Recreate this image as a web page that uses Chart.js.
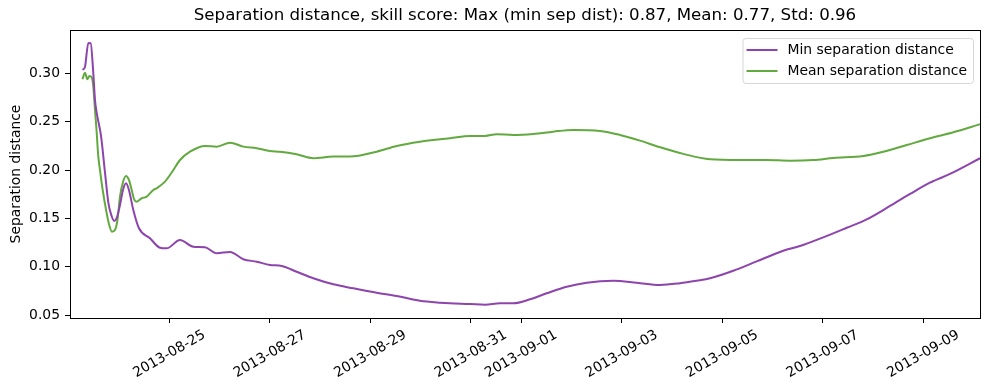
<!DOCTYPE html>
<html>
<head>
<meta charset="utf-8">
<script src="https://cdn.jsdelivr.net/npm/chart.js@4/dist/chart.umd.min.js"></script>
<style>
html,body{margin:0;padding:0;background:#fff;}
#wrap{width:989px;height:390px;}
</style>
</head>
<body>
<div id="wrap"><canvas id="c" width="989" height="390"></canvas></div>
<script>
// ---- data (x = days since 2013-08-23 00:00 UTC) ----
const startDate = '2013-08-23';
const minDays = [0.273,0.323,0.389,0.436,0.488,0.522,0.556,0.641,0.721,0.787,0.854,0.906,0.96,1.019,1.079,1.139,1.197,1.284,1.397,1.616,1.815,1.948,2.213,2.477,2.710,2.943,3.208,3.472,3.739,4.003,4.236,4.534,4.865,5.263,5.660,6.126,6.524,6.987,7.385,7.584,7.982,8.28,8.579,8.843,9.176,9.508,9.906,10.304,10.833,11.298,11.762,12.16,12.492,12.757,13.22,13.686,14.215,14.547,15.01,15.476,15.874,16.338,16.735,17.133,17.531,18.128];
const minValues = [0.3034,0.3068,0.3313,0.3310,0.3003,0.2724,0.259,0.2355,0.1974,0.1664,0.1523,0.1474,0.1515,0.164,0.1795,0.1864,0.1795,0.1588,0.1399,0.1295,0.1198,0.1192,0.1278,0.1209,0.1203,0.1141,0.1154,0.1079,0.1054,0.102,0.1009,0.095,0.0882,0.082,0.0779,0.0733,0.0699,0.065,0.063,0.0624,0.0617,0.061,0.0624,0.0624,0.0665,0.0727,0.0795,0.0837,0.0857,0.0837,0.0813,0.0831,0.0857,0.0882,0.096,0.1057,0.1167,0.1215,0.1305,0.1404,0.1491,0.1629,0.1753,0.187,0.196,0.2122];
const meanDays = [0.273,0.323,0.369,0.409,0.456,0.488,0.522,0.552,0.588,0.621,0.675,0.755,0.80,0.860,0.919,0.969,1.019,1.079,1.139,1.197,1.252,1.298,1.351,1.451,1.550,1.682,1.749,1.914,2.054,2.213,2.412,2.710,2.943,3.208,3.472,3.739,4.003,4.202,4.534,4.865,5.263,5.595,6.126,6.524,6.987,7.385,7.584,7.982,8.28,8.513,8.843,9.241,9.639,10.037,10.568,10.966,11.364,11.762,12.226,12.757,13.353,13.884,14.348,14.812,15.21,15.806,16.204,16.67,17.133,17.597,18.128];
const meanValues = [0.2938,0.3006,0.2938,0.2972,0.2959,0.2862,0.2621,0.2414,0.2138,0.2001,0.1794,0.1553,0.1443,0.1364,0.1381,0.1485,0.1725,0.1877,0.1939,0.1898,0.1794,0.1701,0.1674,0.1709,0.1725,0.1794,0.1812,0.188,0.198,0.2104,0.219,0.2249,0.2242,0.2283,0.2242,0.2225,0.2197,0.219,0.2163,0.2122,0.2139,0.2139,0.219,0.2249,0.2293,0.2318,0.2329,0.2353,0.2353,0.237,0.2363,0.2373,0.2397,0.2414,0.2404,0.2363,0.2304,0.2236,0.2167,0.2112,0.2104,0.2104,0.2097,0.2104,0.2125,0.2146,0.219,0.2259,0.2328,0.239,0.2473];
const xTickLabels = ['2013-08-25','2013-08-27','2013-08-29','2013-08-31','2013-09-01','2013-09-03','2013-09-05','2013-09-07','2013-09-09'];
const yTickValues = [0.05,0.10,0.15,0.20,0.25,0.30];
const seriesNames = ['Min separation distance','Mean separation distance'];
const titleText = 'Separation distance, skill score: Max (min sep dist): 0.87, Mean: 0.77, Std: 0.96';
const yAxisTitle = 'Separation distance';

// ---- helpers ----
const DAY = 86400000;
const t0 = Date.parse(startDate + 'T00:00:00Z');
const dayOf = s => (Date.parse(s + 'T00:00:00Z') - t0) / DAY;
const fmtDay = d => new Date(t0 + Math.round(d * DAY)).toISOString().slice(0, 10);
const xTickValues = xTickLabels.map(dayOf);
const COLORS = ['#8e44ad', '#62aa3f'];
const FONT = '"DejaVu Sans", sans-serif';
const FS = 13.9;

Chart.defaults.font.family = FONT;
Chart.defaults.color = '#000';

const frameAndLabels = {
  id: 'frameAndLabels',
  afterDraw(chart) {
    const {ctx, chartArea: a} = chart;
    const xs = chart.scales.x;
    ctx.save();
    // spines
    ctx.strokeStyle = '#000';
    ctx.lineWidth = 1;
    ctx.strokeRect(Math.round(a.left) + 0.5, Math.round(a.top) + 0.5,
                   Math.round(a.right - a.left), Math.round(a.bottom - a.top));
    // x tick labels, rotated 30deg, centred on tick
    ctx.font = FS + 'px ' + FONT;
    ctx.fillStyle = '#000';
    ctx.textAlign = 'center';
    ctx.textBaseline = 'middle';
    const rad = 30 * Math.PI / 180;
    xs.ticks.forEach(t => {
      const px = xs.getPixelForValue(t.value);
      const label = fmtDay(t.value);
      const w = ctx.measureText(label).width;
      const h = FS * 1.0;
      const H = w * Math.sin(rad) + h * Math.cos(rad);
      const cy = a.bottom + 5 + 5 + H / 2;
      ctx.save();
      ctx.translate(px, cy);
      ctx.rotate(-rad);
      ctx.fillText(label, 0, 0);
      ctx.restore();
    });
    // legend
    const textW = Math.max(...seriesNames.map(n => ctx.measureText(n).width));
    const right = a.right - 7;
    const top = a.top + 8;
    const left = right - (45 + textW + 6);
    const bh = 45;
    ctx.beginPath();
    if (ctx.roundRect) ctx.roundRect(left + 0.5, top + 0.5, right - left, bh, 3);
    else ctx.rect(left + 0.5, top + 0.5, right - left, bh);
    ctx.fillStyle = 'rgba(255,255,255,0.8)';
    ctx.fill();
    ctx.strokeStyle = '#d6d6d6';
    ctx.stroke();
    ctx.textAlign = 'left';
    seriesNames.forEach((n, i) => {
      const y = top + 12 + i * 21;
      ctx.strokeStyle = COLORS[i];
      ctx.lineWidth = 2;
      ctx.beginPath();
      ctx.moveTo(left + 4, y);
      ctx.lineTo(left + 35, y);
      ctx.stroke();
      ctx.fillStyle = '#000';
      ctx.fillText(n, left + 45, y);
    });
    ctx.restore();
  }
};

new Chart(document.getElementById('c'), {
  type: 'line',
  data: {
    datasets: [
      { label: seriesNames[0], data: minDays.map((d, i) => ({x: d, y: minValues[i]})),
        borderColor: COLORS[0], backgroundColor: COLORS[0], borderWidth: 2,
        pointRadius: 0, cubicInterpolationMode: 'monotone', fill: false },
      { label: seriesNames[1], data: meanDays.map((d, i) => ({x: d, y: meanValues[i]})),
        borderColor: COLORS[1], backgroundColor: COLORS[1], borderWidth: 2,
        pointRadius: 0, cubicInterpolationMode: 'monotone', fill: false }
    ]
  },
  options: {
    responsive: false,
    animation: false,
    layout: { padding: { top: 0, right: 9, bottom: 0, left: 0 } },
    plugins: {
      legend: { display: false },
      tooltip: { enabled: false },
      title: {
        display: true, text: titleText, fullSize: false,
        font: { size: 16.65, weight: 'normal', family: FONT, lineHeight: 1.2 },
        color: '#000', padding: { top: 5.7, bottom: 4.3 }
      }
    },
    scales: {
      x: {
        type: 'linear', min: 0.0246, max: 18.128,
        afterBuildTicks: s => { s.ticks = xTickValues.map(v => ({value: v})); },
        afterFit: s => { s.height = 72; },
        ticks: { display: false },
        grid: { drawOnChartArea: false, drawTicks: true, tickLength: 5, color: '#000', lineWidth: 1 },
        border: { display: false }
      },
      y: {
        type: 'linear', min: 0.0472, max: 0.3447,
        afterBuildTicks: s => { s.ticks = yTickValues.map(v => ({value: v})); },
        afterFit: s => { s.width = 70; },
        ticks: { font: { size: FS, family: FONT }, color: '#000', padding: 5,
                 callback: v => v.toFixed(2) },
        grid: { drawOnChartArea: false, drawTicks: true, tickLength: 5, color: '#000', lineWidth: 1 },
        border: { display: false },
        title: { display: true, text: yAxisTitle, font: { size: FS, family: FONT }, color: '#000',
                 padding: { top: 8.5, bottom: 0 } }
      }
    }
  },
  plugins: [frameAndLabels]
});
</script>
</body>
</html>
